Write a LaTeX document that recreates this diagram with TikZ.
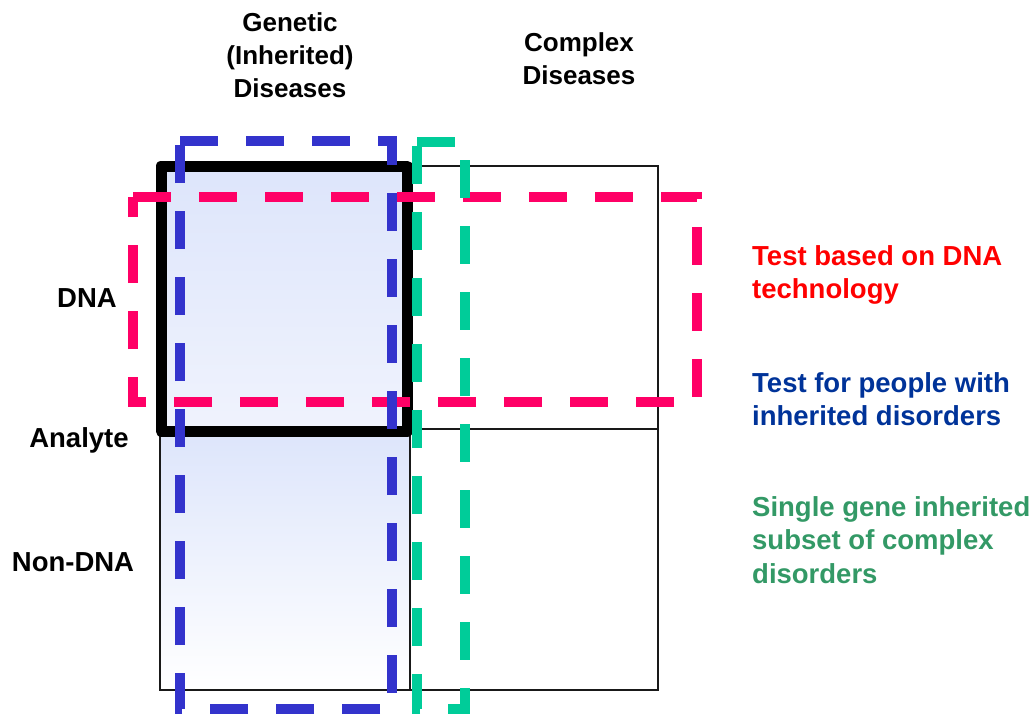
\documentclass[tikz,border=0pt]{standalone}
\usepackage{fontspec}
\setmainfont{Liberation Sans}
\definecolor{pinkc}{HTML}{FF0066}
\definecolor{bluec}{HTML}{3333CC}
\definecolor{greenc}{HTML}{00CC99}
\definecolor{textred}{HTML}{FF0000}
\definecolor{textblue}{HTML}{003399}
\definecolor{textgreen}{HTML}{339966}
\definecolor{fillblue}{HTML}{DDE5FB}
\definecolor{fillblue2}{HTML}{F0F3FD}
\begin{document}
\begin{tikzpicture}[x=1pt,y=-1pt,
  lbl/.style={font=\fontsize{26}{33}\selectfont\bfseries, inner sep=0pt},
  sidelbl/.style={font=\fontsize{27.5}{33.5}\selectfont\bfseries, inner sep=0pt},
  gridline/.style={line width=2pt, draw=black!90},
  dashbox/.style={line width=10pt, dash pattern=on 38pt off 28pt},
]
\useasboundingbox (0,0) rectangle (1034,713);
% cell fills
\shade[top color=fillblue, bottom color=fillblue2] (161,166) rectangle (407,431);
\shade[top color=fillblue, bottom color=white] (160,431) rectangle (410,690);
% grid
\draw[gridline] (160,431) rectangle (410,690);
\draw[gridline] (410,166) rectangle (658,690);
\draw[gridline] (410,429) -- (658,429);
\draw[line width=11pt, line join=round] (161,166) rectangle (407,431);
% dashed outlines
\draw[dashbox, pinkc] (133,197) -- (697,197) -- (697,402) -- (133,402) -- cycle;
\draw[dashbox, bluec] (180,141) -- (392,141) -- (392,709) -- (180,709) -- cycle;
\draw[dashbox, greenc] (417,142) -- (465,142) -- (465,709) -- (417,709) -- cycle;
% labels
\node[lbl, align=center] (genetic) at (290,55) {Genetic\\(Inherited)\\Diseases};
\node[lbl, align=center] (complex) at (579,59) {Complex\\Diseases};
\node[sidelbl] (dna) at (87,298) {DNA};
\node[sidelbl] (analyte) at (79,440) {Analyte};
\node[sidelbl] (nondna) at (73,562) {Non-DNA};
\node[sidelbl, align=left, anchor=west, text=textred] (t1) at (752,275) {Test based on DNA\\technology};
\node[sidelbl, align=left, anchor=west, text=textblue] (t2) at (752,399) {Test for people with\\inherited disorders};
\node[sidelbl, align=left, anchor=west, text=textgreen] (t3) at (752,540) {Single gene inherited\\subset of complex\\disorders};
\end{tikzpicture}
\end{document}
